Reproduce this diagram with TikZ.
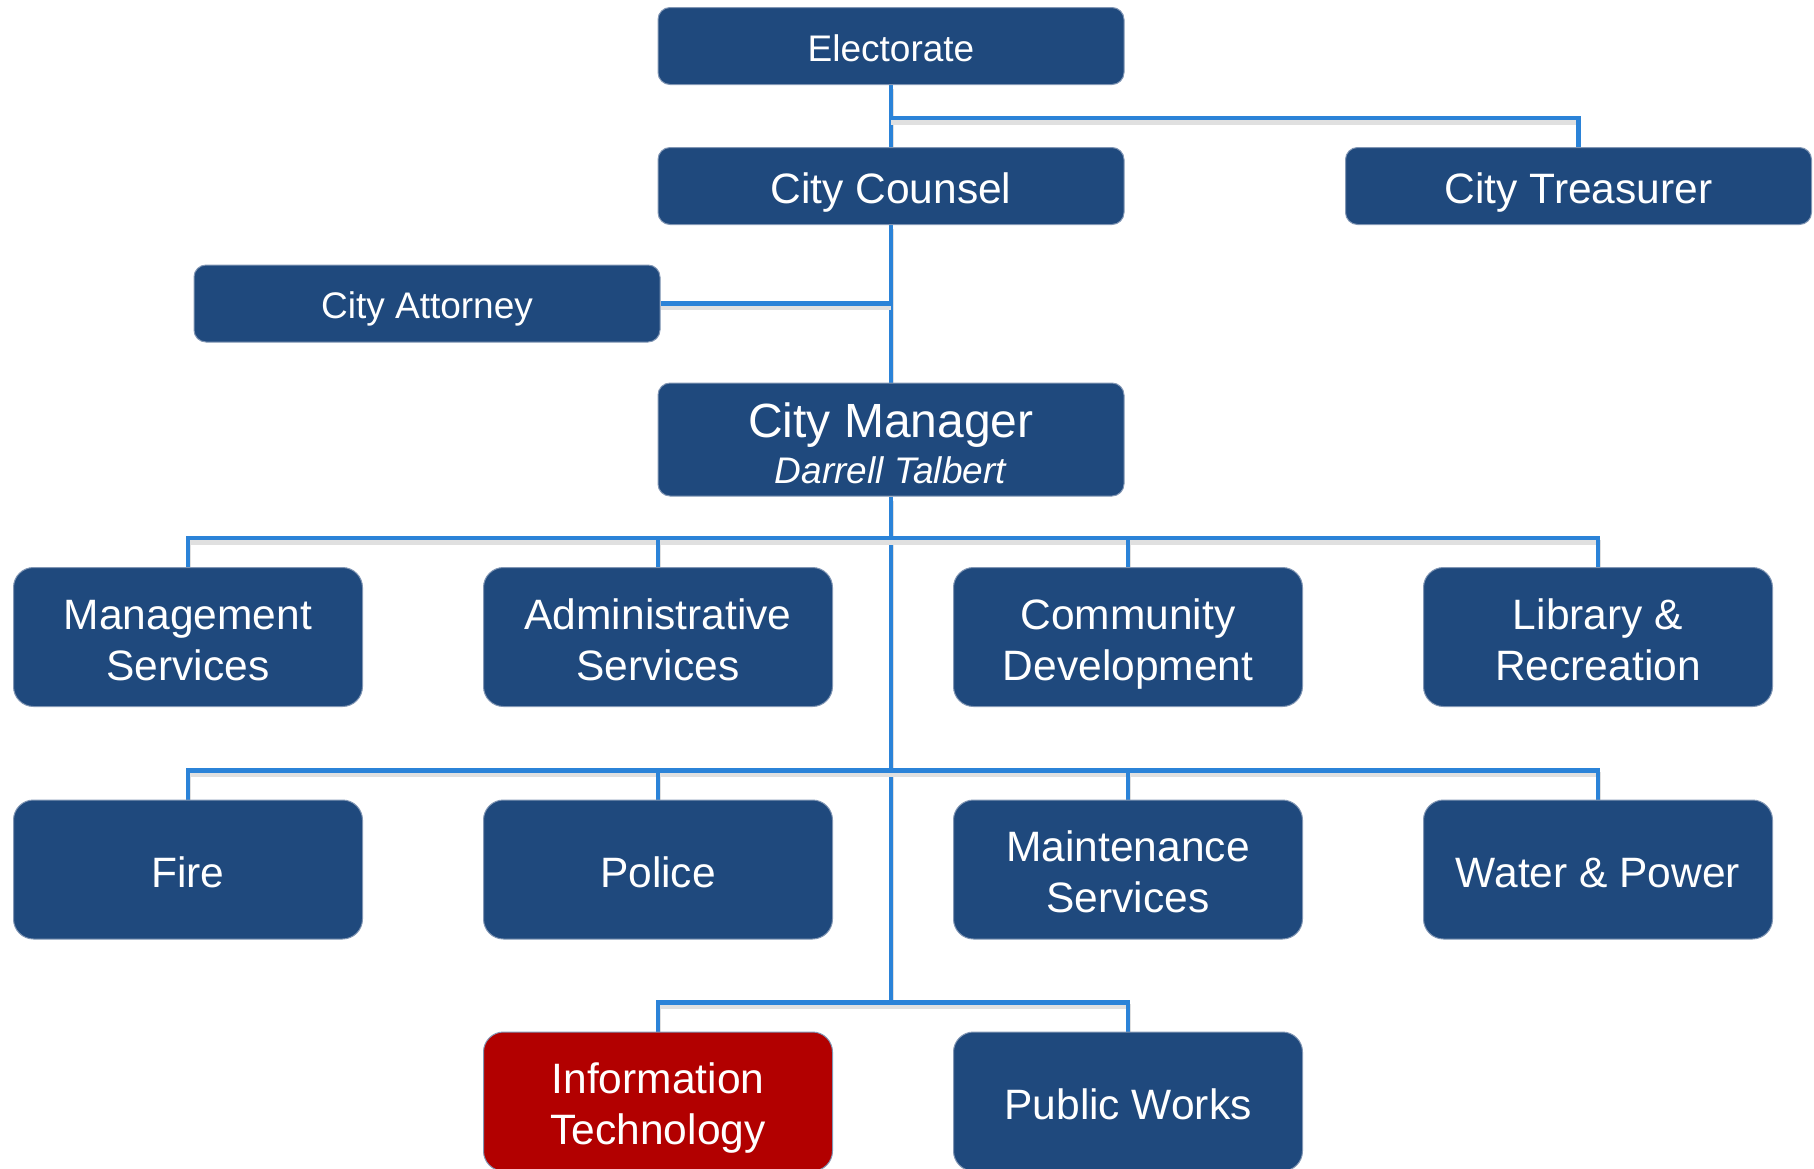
\documentclass[tikz,border=0pt]{standalone}
\usepackage{fontspec}
\setmainfont{Liberation Sans}
\usetikzlibrary{positioning, calc, backgrounds}
\definecolor{unitblue}{HTML}{1F497D}
\definecolor{unitred}{HTML}{B20000}
\definecolor{unitedge}{HTML}{8196B4}
\definecolor{linkblue}{HTML}{2B83D8}
\newcommand{\linetop}{\rule{0pt}{1.06em}}
\tikzset{
	unit/.style={draw=unitedge, line width=1pt, fill=unitblue, text=white, rounded corners=20pt,
		minimum width=349pt, minimum height=139pt, inner sep=0pt, align=center,
		font=\fontsize{42.5}{51}\selectfont,
		execute at begin node={\linetop},
		execute at end node={\rule[-0.23em]{0pt}{0.23em}}},
	topunit/.style={unit, rounded corners=12pt, minimum width=466pt, minimum height=77pt},
	link/.style={draw=linkblue, line width=4.5pt,
		preaction={draw=black!12, line width=5pt, transform canvas={yshift=-4pt}}},
}

\begin{document}
\begin{tikzpicture}[x=1pt, y=-1pt]
	\useasboundingbox (0, 0) rectangle (1814, 1168);
	% top of the chart
	\node[topunit, font=\fontsize{37}{44}\selectfont] (elect) at (891, 46) {Electorate};
	\node[topunit] (counsel) at (891, 186) {City Counsel};
	\node[topunit] (treasurer) at (1578.5, 186) {City Treasurer};
	\node[topunit, font=\fontsize{37}{44}\selectfont] (attorney) at (427, 303.5) {City Attorney};
	\node[topunit, minimum height=113pt, font=\fontsize{37}{46}\selectfont] (manager) at (891, 439.5)
		{{\fontsize{48}{46}\selectfont\linetop City Manager}\\\textit{Darrell Talbert}};
	% departments
	\node[unit] (mgmt) at (188, 637) {\linetop Management\\Services};
	\node[unit] (admin) at (658, 637) {\linetop Administrative\\Services};
	\node[unit] (comdev) at (1128, 637) {\linetop Community\\Development};
	\node[unit] (library) at (1598, 637) {\linetop Library \&\\Recreation};
	\node[unit] (fire) at (188, 869.5) {Fire};
	\node[unit] (police) at (658, 869.5) {Police};
	\node[unit] (maint) at (1128, 869.5) {\linetop Maintenance\\Services};
	\node[unit] (water) at (1598, 869.5) {Water \& Power};
	\node[unit, fill=unitred] (infotech) at (658, 1101.5) {\linetop Information\\Technology};
	\node[unit] (works) at (1128, 1101.5) {Public Works};
	\coordinate (bus3) at (891, 1003);
	\begin{pgfonlayer}{background}
		\draw[link] (elect.south) -- (counsel.north);
		\draw[link] (elect.south) ++(0, 33) -| (treasurer.north);
		\draw[link] (counsel.south) -- (manager.north);
		\draw[link] (attorney.east) -- (attorney.east -| counsel.south);
		\draw[link] (manager.south) -- (bus3);
		\draw[link] (mgmt.north) -- ++(0, -29) -| (library.north);
		\draw[link] (admin.north) -- ++(0, -29);
		\draw[link] (comdev.north) -- ++(0, -29);
		\draw[link] (fire.north) -- ++(0, -29) -| (water.north);
		\draw[link] (police.north) -- ++(0, -29);
		\draw[link] (maint.north) -- ++(0, -29);
		\draw[link] (infotech.north) -- ++(0, -29) -| (works.north);
	\end{pgfonlayer}
\end{tikzpicture}
\end{document}
